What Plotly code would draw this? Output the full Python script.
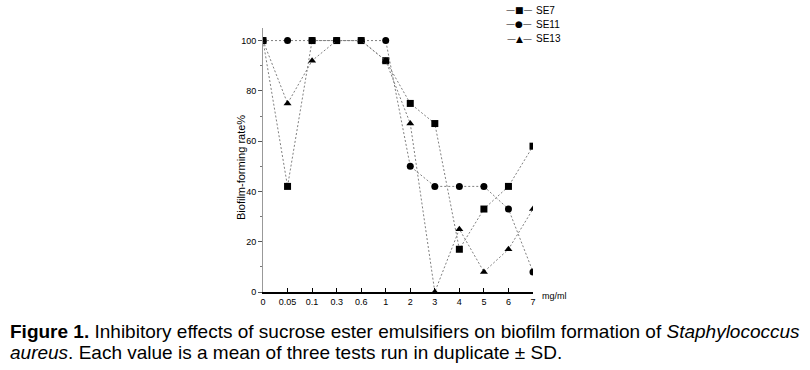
import plotly.graph_objects as go

concentrations = ["0", "0.05", "0.1", "0.3", "0.6", "1", "2", "3", "4", "5", "6", "7"]
se7 = [100, 42, 100, 100, 100, 92, 75, 67, 17, 33, 42, 58]
se11 = [100, 100, 100, 100, 100, 100, 50, 42, 42, 42, 33, 8]
se13 = [100, 75, 92, 100, 100, 92, 67, 0, 25, 8, 17, 33]

series = [("SE7", se7, "square", "■"), ("SE11", se11, "circle", "●"), ("SE13", se13, "triangle-up", "▲")]

W, H = 810, 370
L, R, T, B = 263, 810 - 533, 28, 370 - 292
PW, PH = W - L - R, H - T - B


def px(xp):
    return (xp - L) / PW


def py(yp):
    return (H - B - yp) / PH


fig = go.Figure()
for name, vals, sym, glyph in series:
    fig.add_trace(go.Scatter(
        x=concentrations, y=vals, name=name, mode="lines+markers",
        line=dict(color="#808080", width=1, dash="2px,2px"),
        marker=dict(symbol=sym, size=7, color="black"),
        cliponaxis=True, showlegend=False,
    ))

fig.update_layout(
    width=W, height=H,
    margin=dict(l=L, r=R, t=T, b=B, autoexpand=False),
    paper_bgcolor="white", plot_bgcolor="white",
    font=dict(family="Arial, Liberation Sans", size=9, color="black"),
    showlegend=False,
    xaxis=dict(
        type="category", range=[0, 11], showgrid=False, zeroline=False,
        showline=True, linecolor="black", linewidth=1.5,
        ticks="inside", ticklen=4, tickcolor="black",
        tickfont=dict(size=9),
    ),
    yaxis=dict(
        range=[0, 105], showgrid=False, zeroline=False,
        showline=True, linecolor="#999999", linewidth=1,
        ticks="outside", ticklen=4, tickcolor="#555555",
        tickvals=[0, 20, 40, 60, 80, 100], tickfont=dict(size=9),
        minor=dict(ticks="outside", ticklen=2, tickcolor="#777777", tickvals=[10, 30, 50, 70, 90]),
    ),
)

# y-axis title
fig.add_annotation(x=px(241), xref="paper", y=py(168), yref="paper",
                   xanchor="center", yanchor="middle", textangle=-90, showarrow=False,
                   text="Biofilm-forming rate%", font=dict(size=11))

# legend drawn as text rows
legend_rows_y = [10, 24, 39]
for (name, vals, sym, glyph), yrow in zip(series, legend_rows_y):
    fig.add_annotation(x=px(519), xref="paper", y=py(yrow), yref="paper",
                       xanchor="center", yanchor="middle", showarrow=False,
                       text="—" + glyph + "—",
                       font=dict(size=9, family="DejaVu Sans", color="black"))
    fig.add_annotation(x=px(534), xref="paper", y=py(yrow), yref="paper",
                       xanchor="left", yanchor="middle", showarrow=False,
                       text=name, font=dict(size=10))

fig.add_annotation(x=px(540), xref="paper", y=py(296), yref="paper", xanchor="left", yanchor="middle",
                   text="mg/ml", showarrow=False, font=dict(size=9))

caption1 = ("<b>Figure 1.</b> Inhibitory effects of sucrose ester emulsifiers on biofilm formation of "
            "<i>Staphylococcus</i>")
caption2 = "<i>aureus</i>. Each value is a mean of three tests run in duplicate ± SD."
fig.add_annotation(x=px(8), xref="paper", y=py(331), yref="paper",
                   xanchor="left", yanchor="middle", text=caption1, showarrow=False,
                   font=dict(size=19, family="Arial, Liberation Sans"))
fig.add_annotation(x=px(8), xref="paper", y=py(352), yref="paper",
                   xanchor="left", yanchor="middle", text=caption2, showarrow=False,
                   font=dict(size=19, family="Arial, Liberation Sans"))

fig.write_html("out.html", config={"displayModeBar": False},
               post_script="document.body.style.margin='0px';document.body.style.overflow='hidden';")
